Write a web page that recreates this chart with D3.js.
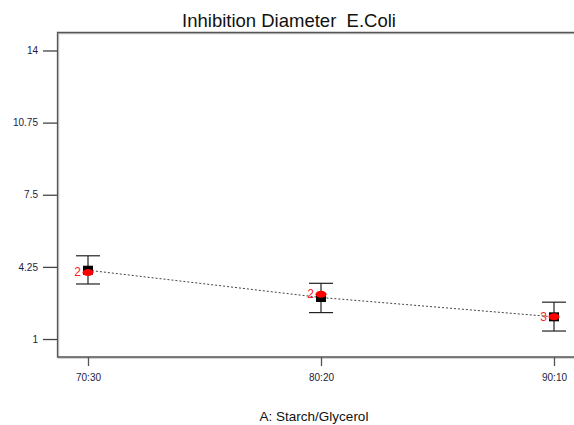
<!DOCTYPE html>
<html>
<head>
<meta charset="utf-8">
<script src="https://cdn.jsdelivr.net/npm/d3@7"></script>
<style>
  html, body { margin: 0; padding: 0; background: #fff; }
  svg { display: block; font-family: "Liberation Sans", Arial, sans-serif; }
</style>
</head>
<body>
<svg id="chart" width="574" height="425"></svg>
<script>
// Factor levels (A: Starch/Glycerol ratio)
const categories = ["70:30", "80:20", "90:10"];
// Model prediction at each level
const predicted = [4.1, 2.87, 2.0];
// Confidence interval bounds around the prediction
const lower = [3.48, 2.19, 1.36];
const upper = [4.75, 3.51, 2.66];
// Observed design point values and replicate counts
const observed = [4.0, 3.02, 2.0];
const counts = ["2", "2", "3"];
// Y axis tick values
const yTicks = [1, 4.25, 7.5, 10.75, 14];

const svg = d3.select("#chart");
const plot = { left: 57.5, top: 32.5, bottom: 357, right: 574 };

const x = d3.scalePoint().domain(categories).range([88, 554]);
const y = d3.scaleLinear().domain([0.19, 14.81]).range([plot.bottom, plot.top]);

// Title
svg.append("text")
  .attr("x", 289).attr("y", 27)
  .attr("text-anchor", "middle")
  .attr("font-size", 18.5)
  .attr("fill", "#111")
  .text("Inhibition Diameter\u00a0\u00a0E.Coli");

// Frame: left, top and bottom borders
const frame = svg.append("g").attr("fill", "none");
frame.append("path")
  .attr("d", `M${plot.right},${plot.top + 1}H${plot.left + 1}V${plot.bottom + 1}H${plot.right}`)
  .attr("stroke", "#c8c8c8").attr("stroke-width", 1.5);
frame.append("path")
  .attr("d", `M${plot.right},${plot.top}H${plot.left}V${plot.bottom}H${plot.right}`)
  .attr("stroke", "#555").attr("stroke-width", 1.3);

// Y axis
const yAxis = d3.axisLeft(y).tickValues(yTicks).tickSize(14).tickPadding(5)
  .tickFormat(d => String(d));
const gy = svg.append("g").attr("transform", `translate(${plot.left - 0.5},0)`).call(yAxis);
gy.select(".domain").remove();
gy.selectAll(".tick line").attr("stroke", "#444").attr("stroke-width", 1.3);
gy.selectAll(".tick text").attr("font-size", 10).attr("fill", "#1c1c3c")
  .attr("font-family", "Liberation Sans, Arial, sans-serif");

// X axis
const xAxis = d3.axisBottom(x).tickSize(9).tickPadding(8);
const gx = svg.append("g").attr("transform", `translate(0,${plot.bottom})`).call(xAxis);
gx.select(".domain").remove();
gx.selectAll(".tick line").attr("stroke", "#555").attr("stroke-width", 1.3);
gx.selectAll(".tick text").attr("font-size", 10).attr("fill", "#1c1c3c")
  .attr("font-family", "Liberation Sans, Arial, sans-serif");

// X axis title
svg.append("text")
  .attr("x", 314).attr("y", 421)
  .attr("text-anchor", "middle")
  .attr("font-size", 13.5)
  .attr("fill", "#111")
  .text("A: Starch/Glycerol");

const rows = categories.map((c, i) => ({
  c, p: predicted[i], lo: lower[i], hi: upper[i], o: observed[i], n: counts[i]
}));

// Prediction line
svg.append("path")
  .datum(rows)
  .attr("fill", "none")
  .attr("stroke", "#444")
  .attr("stroke-width", 1)
  .attr("stroke-dasharray", "2,2")
  .attr("d", d3.line().x(d => x(d.c)).y(d => y(d.p)));

// Interval bars
const bars = svg.append("g").attr("stroke", "#222").attr("stroke-width", 1.2);
bars.selectAll(".stem").data(rows).join("line")
  .attr("x1", d => x(d.c)).attr("x2", d => x(d.c))
  .attr("y1", d => y(d.hi)).attr("y2", d => y(d.lo));
bars.selectAll(".capHi").data(rows).join("line")
  .attr("x1", d => x(d.c) - 12).attr("x2", d => x(d.c) + 12)
  .attr("y1", d => y(d.hi)).attr("y2", d => y(d.hi));
bars.selectAll(".capLo").data(rows).join("line")
  .attr("x1", d => x(d.c) - 12).attr("x2", d => x(d.c) + 12)
  .attr("y1", d => y(d.lo)).attr("y2", d => y(d.lo));

// Predicted value markers
svg.append("g").selectAll("rect").data(rows).join("rect")
  .attr("x", d => x(d.c) - 5).attr("y", d => y(d.p) - 4.5)
  .attr("width", 10).attr("height", 9)
  .attr("fill", "#000");

// Observed design points
svg.append("g").selectAll("ellipse").data(rows).join("ellipse")
  .attr("cx", d => x(d.c)).attr("cy", d => y(d.o))
  .attr("rx", 5.5).attr("ry", 3.5)
  .attr("fill", "#ff0000");

// Replicate counts
svg.append("g").selectAll("text").data(rows).join("text")
  .attr("x", d => x(d.c) - 7).attr("y", d => y(d.o) + 4)
  .attr("text-anchor", "end")
  .attr("font-size", 12)
  .attr("fill", "#ff2020")
  .text(d => d.n);
</script>
</body>
</html>
